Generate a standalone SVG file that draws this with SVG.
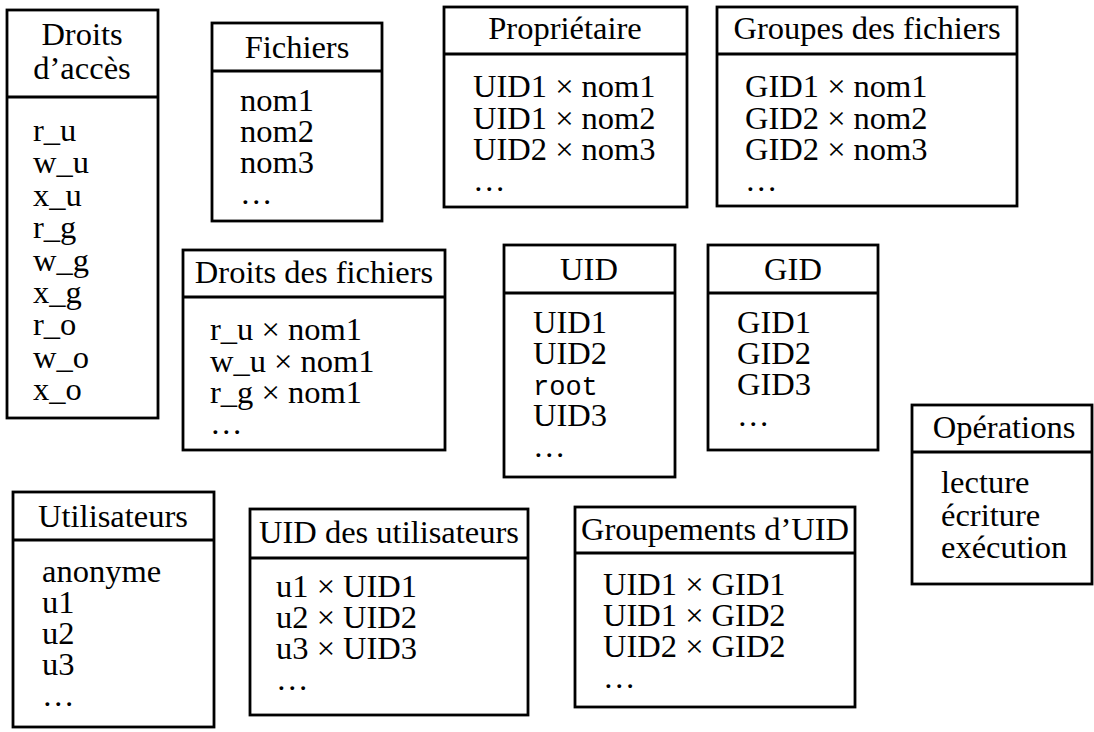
<svg xmlns="http://www.w3.org/2000/svg" width="1094" height="732" viewBox="0 0 1094 732">
  <style>
    .box { fill: #fff; stroke: #000; stroke-width: 2.8; }
    .sep { stroke: #000; stroke-width: 2.8; }
    text { font-family: "Liberation Serif", "Times New Roman", serif; font-size: 32.5px; fill: #000; }
    .title { text-anchor: middle; }
    .mono { font-family: "Liberation Mono", "Courier New", monospace; font-size: 27px; }
  </style>
  <rect width="1094" height="732" fill="#fff"/>

  <g id="droits-acces">
    <rect class="box" x="7" y="10" width="151" height="408"/>
    <line class="sep" x1="7" y1="97" x2="158" y2="97"/>
    <text class="title" x="82" y="45">Droits</text>
    <text class="title" x="82" y="79">d’accès</text>
    <text x="33" y="141">r_u</text>
    <text x="33" y="173">w_u</text>
    <text x="33" y="205.5">x_u</text>
    <text x="33" y="238">r_g</text>
    <text x="33" y="270.5">w_g</text>
    <text x="33" y="303">x_g</text>
    <text x="33" y="335">r_o</text>
    <text x="33" y="367.5">w_o</text>
    <text x="33" y="400">x_o</text>
  </g>

  <g id="fichiers">
    <rect class="box" x="212" y="23" width="170" height="198"/>
    <line class="sep" x1="212" y1="71" x2="382" y2="71"/>
    <text class="title" x="297" y="58">Fichiers</text>
    <text x="240" y="111">nom1</text>
    <text x="240" y="142">nom2</text>
    <text x="240" y="173">nom3</text>
    <text x="240" y="204">…</text>
  </g>

  <g id="proprietaire">
    <rect class="box" x="444" y="7" width="243" height="200"/>
    <line class="sep" x1="444" y1="54" x2="687" y2="54"/>
    <text class="title" x="565" y="39">Propriétaire</text>
    <text x="473" y="97">UID1 × nom1</text>
    <text x="473" y="128.5">UID1 × nom2</text>
    <text x="473" y="160">UID2 × nom3</text>
    <text x="473" y="191">…</text>
  </g>

  <g id="groupes-fichiers">
    <rect class="box" x="717" y="7" width="300" height="199"/>
    <line class="sep" x1="717" y1="54" x2="1017" y2="54"/>
    <text class="title" x="867" y="39">Groupes des fichiers</text>
    <text x="745" y="97">GID1 × nom1</text>
    <text x="745" y="128.5">GID2 × nom2</text>
    <text x="745" y="160">GID2 × nom3</text>
    <text x="745" y="191">…</text>
  </g>

  <g id="droits-fichiers">
    <rect class="box" x="183" y="250" width="262" height="200"/>
    <line class="sep" x1="183" y1="297" x2="445" y2="297"/>
    <text class="title" x="314" y="283">Droits des fichiers</text>
    <text x="210" y="340">r_u × nom1</text>
    <text x="210" y="371.5">w_u × nom1</text>
    <text x="210" y="403">r_g × nom1</text>
    <text x="210" y="434">…</text>
  </g>

  <g id="uid">
    <rect class="box" x="504" y="245" width="171" height="232"/>
    <line class="sep" x1="504" y1="293" x2="675" y2="293"/>
    <text class="title" x="589" y="280">UID</text>
    <text x="533" y="333">UID1</text>
    <text x="533" y="364">UID2</text>
    <text class="mono" x="533" y="395">root</text>
    <text x="533" y="426">UID3</text>
    <text x="533" y="457">…</text>
  </g>

  <g id="gid">
    <rect class="box" x="708" y="245" width="170" height="205"/>
    <line class="sep" x1="708" y1="293" x2="878" y2="293"/>
    <text class="title" x="793" y="280">GID</text>
    <text x="737" y="333">GID1</text>
    <text x="737" y="364">GID2</text>
    <text x="737" y="395">GID3</text>
    <text x="737" y="426">…</text>
  </g>

  <g id="operations">
    <rect class="box" x="912" y="405" width="180" height="179"/>
    <line class="sep" x1="912" y1="452" x2="1092" y2="452"/>
    <text class="title" x="1004" y="438">Opérations</text>
    <text x="941" y="493">lecture</text>
    <text x="941" y="525.5">écriture</text>
    <text x="941" y="558">exécution</text>
  </g>

  <g id="utilisateurs">
    <rect class="box" x="13" y="492" width="201" height="235"/>
    <line class="sep" x1="13" y1="540" x2="214" y2="540"/>
    <text class="title" x="113" y="527">Utilisateurs</text>
    <text x="42" y="582">anonyme</text>
    <text x="42" y="613">u1</text>
    <text x="42" y="644">u2</text>
    <text x="42" y="675">u3</text>
    <text x="42" y="706">…</text>
  </g>

  <g id="uid-utilisateurs">
    <rect class="box" x="250" y="509" width="278" height="206"/>
    <line class="sep" x1="250" y1="558" x2="528" y2="558"/>
    <text class="title" x="389" y="543">UID des utilisateurs</text>
    <text x="276" y="597">u1 × UID1</text>
    <text x="276" y="628">u2 × UID2</text>
    <text x="276" y="659">u3 × UID3</text>
    <text x="276" y="690">…</text>
  </g>

  <g id="groupements-uid">
    <rect class="box" x="575" y="507" width="280" height="200"/>
    <line class="sep" x1="575" y1="553" x2="855" y2="553"/>
    <text class="title" x="715" y="540">Groupements d’UID</text>
    <text x="603" y="595">UID1 × GID1</text>
    <text x="603" y="626">UID1 × GID2</text>
    <text x="603" y="657">UID2 × GID2</text>
    <text x="603" y="688">…</text>
  </g>

  <g id="connectors"/>
</svg>
